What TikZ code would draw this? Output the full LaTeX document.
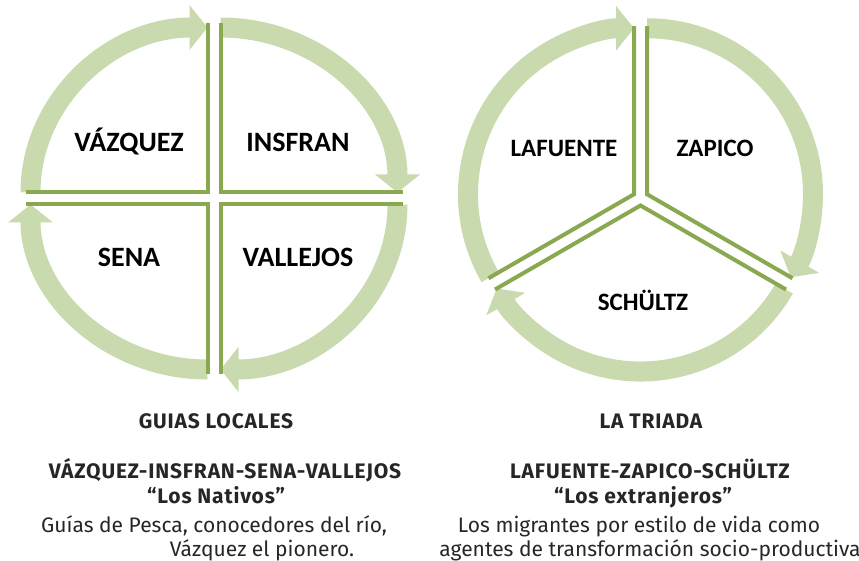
\documentclass[tikz,border=0pt]{standalone}
\usepackage{fontspec}
\setmainfont{Fira Sans}
\newfontfamily\labelfont{Carlito}
\usetikzlibrary{arrows.meta}

\definecolor{ringgreen}{RGB}{200,218,174}
\definecolor{edgegreen}{RGB}{137,168,79}
\definecolor{textgray}{RGB}{38,38,38}

\tikzset{
  ring/.style={draw=ringgreen, line width=20pt, -{Triangle[width=44pt,length=18pt]}},
  sideline/.style={draw=edgegreen, line width=4pt},
  qlabel/.style={font=\labelfont\bfseries\fontsize{28}{30}\selectfont, text=black},
  tlabel/.style={font=\labelfont\bfseries\fontsize{25}{27}\selectfont, text=black},
  caphead/.style={anchor=base, font=\bfseries\fontsize{21}{24}\selectfont\addfontfeatures{LetterSpace=4}, text=textgray},
  captext/.style={anchor=base, font=\fontsize{21}{24}\selectfont, text=textgray}
}

\begin{document}
\begin{tikzpicture}[x=1pt,y=1pt]
  \useasboundingbox (0,0) rectangle (859,-561);

  % Left circle: four quadrants, pulled apart
  \coordinate (q1) at (207.5,-192.5);
  \coordinate (q2) at (220.5,-192.5);
  \coordinate (q3) at (220.5,-204.5);
  \coordinate (q4) at (207.5,-204.5);

  \draw[ring] (q1) ++(180:177 and 165) arc[start angle=180, end angle=90, x radius=177, y radius=165];
  \draw[ring] (q2) ++(90:177 and 165) arc[start angle=90, end angle=0, x radius=177, y radius=165];
  \draw[ring] (q3) ++(0:177 and 165) arc[start angle=0, end angle=-90, x radius=177, y radius=165];
  \draw[ring] (q4) ++(-90:177 and 165) arc[start angle=-90, end angle=-180, x radius=177, y radius=165];

  \draw[sideline] (q1) ++(0,169) -- (q1) -- ++(-182,0);
  \draw[sideline] (q2) ++(0,169) -- (q2) -- ++(182,0);
  \draw[sideline] (q3) ++(0,-169) -- (q3) -- ++(182,0);
  \draw[sideline] (q4) ++(0,-169) -- (q4) -- ++(-182,0);

  \node[qlabel] (vazquez) at (129,-142) {VÁZQUEZ};
  \node[qlabel] (insfran) at (298,-142) {INSFRAN};
  \node[qlabel] (sena) at (129,-257) {SENA};
  \node[qlabel] (vallejos) at (298,-257) {VALLEJOS};

  % Right circle: three sectors
  \coordinate (t1) at (634,-194.25);
  \coordinate (t2) at (647,-194.25);
  \coordinate (t3) at (640.5,-205.5);

  \draw[ring] (t1) ++(210:166) arc[start angle=210, end angle=90, radius=166];
  \draw[ring] (t2) ++(90:166) arc[start angle=90, end angle=-30, radius=166];
  \draw[ring] (t3) ++(-30:166) arc[start angle=-30, end angle=-150, radius=166];

  \draw[sideline] (t1) ++(90:168) -- (t1) -- ++(210:168);
  \draw[sideline] (t2) ++(90:168) -- (t2) -- ++(-30:168);
  \draw[sideline] (t3) ++(-30:168) -- (t3) -- ++(210:168);

  \node[tlabel] (lafuente) at (564,-148) {LAFUENTE};
  \node[tlabel] (zapico) at (715,-148) {ZAPICO};
  \node[tlabel] (schultz) at (643,-300) {SCHÜLTZ};

  % Captions
  \node[caphead] (guias) at (216,-428) {GUIAS LOCALES};
  \node[caphead] (nativos) at (225,-478) {VÁZQUEZ-INSFRAN-SENA-VALLEJOS};
  \node[caphead] (nativosq) at (216,-503) {“Los Nativos”};
  \node[captext] (nativosa) at (214,-532) {Guías de Pesca, conocedores del río,};
  \node[captext] (nativosb) at (262,-556) {Vázquez el pionero.};

  \node[caphead] (triada) at (651,-428) {LA TRIADA};
  \node[caphead] (extranj) at (650,-478) {LAFUENTE-ZAPICO-SCHÜLTZ};
  \node[caphead] (extranjq) at (643,-503) {“Los extranjeros”};
  \node[captext] (extranja) at (639,-532) {Los migrantes por estilo de vida como};
  \node[captext] (extranjb) at (650,-556) {agentes de transformación socio-productiva};
\end{tikzpicture}
\end{document}
